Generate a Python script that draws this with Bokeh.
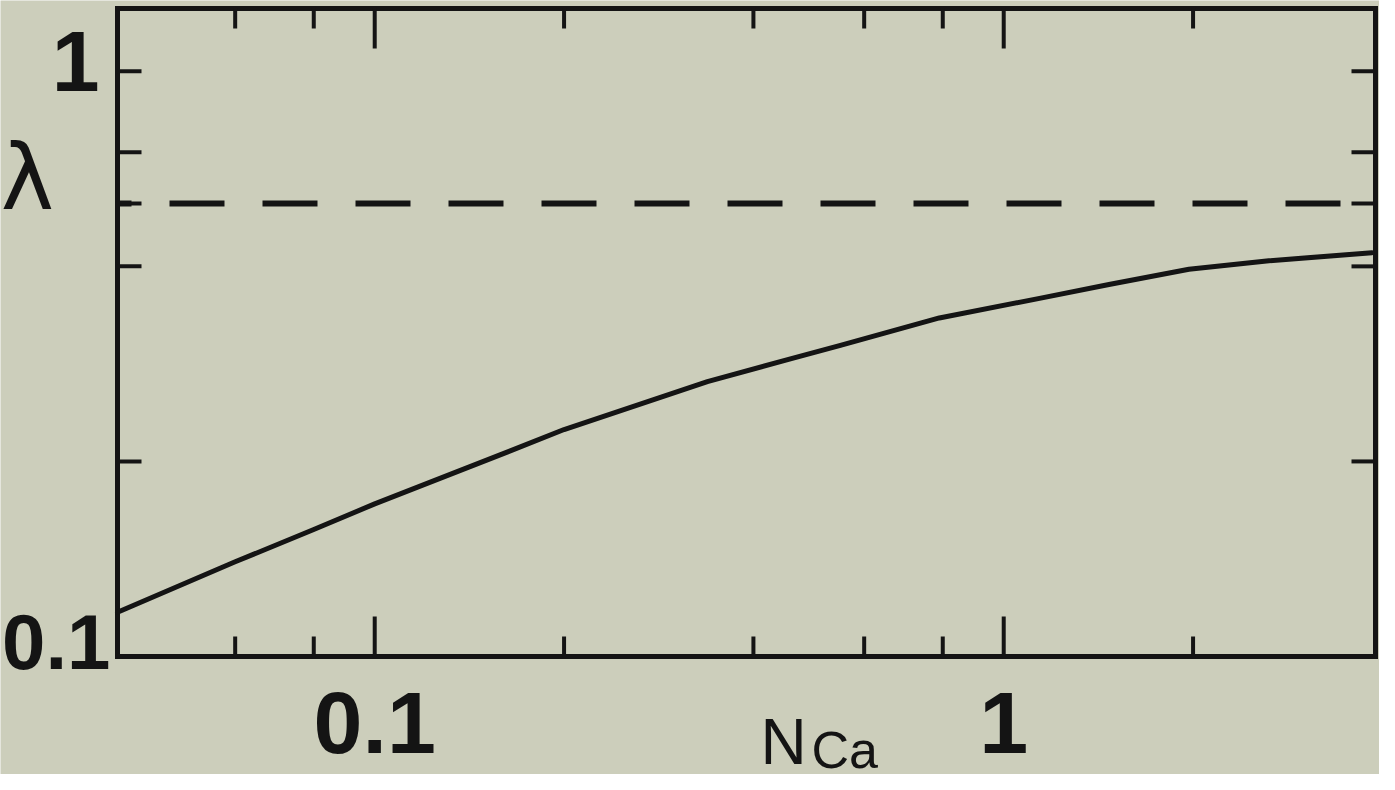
import math
from bokeh.plotting import figure
from bokeh.models import Range1d, Label
from bokeh.embed import file_html
from bokeh.resources import INLINE

# ---- data ----
n_ca = [0.039, 0.06, 0.08, 0.1, 0.165, 0.2, 0.338, 0.458, 0.55, 0.79, 1.14, 1.47, 1.97, 2.64, 3.85]
lam = [0.117, 0.140, 0.157, 0.172, 0.208, 0.224, 0.2655, 0.288, 0.302, 0.333, 0.357, 0.375, 0.396, 0.408, 0.420]
dashed_level = 0.5

x_major = [0.1, 1]
x_minor = [0.06, 0.08, 0.2, 0.4, 0.6, 0.8, 2]
x_tick_labels = ["0.1", "1"]
y_ticks = [0.2, 0.4, 0.5, 0.6, 0.8]
y_top_label = "1"
y_bottom_label = "0.1"
x_title_main, x_title_sub = "N", "Ca"
y_title = "λ"

# plotted box (axis ranges of the original figure)
X0, X1 = 0.039, 3.9
Y0, Y1 = 0.1, 1.0

# ---- layout / style ----
W, H = 1379, 774
L, R, T, B = 117, 4, 8, 118          # box position inside the canvas (px)
BG = "#cccebb"
INK = "#141414"
NUM_FONT = "Liberation Sans"
DESC = 0.21  # offset of the text box bottom below the wanted baseline (fraction of size)


def fx(px):
    return 10 ** (math.log10(X0) + (px - L) / (W - L - R) * math.log10(X1 / X0))


def fy(py):
    return 10 ** (math.log10(Y1) - (py - T) / (H - T - B) * math.log10(Y1 / Y0))


p = figure(width=W, height=H, x_axis_type="log", y_axis_type="log",
           x_range=Range1d(fx(0), fx(W)), y_range=Range1d(fy(H), fy(0)),
           x_axis_location=None, y_axis_location=None, title=None,
           output_backend="svg", toolbar_location=None,
           min_border_left=0, min_border_right=0, min_border_top=0, min_border_bottom=0,
           background_fill_color=BG, border_fill_color=BG, outline_line_color=None)
p.grid.visible = False

# axis box
p.quad(left=[X0], right=[X1], bottom=[Y0], top=[Y1], fill_color=None,
       line_color=INK, line_width=5, line_join="miter")

# inward ticks on all four sides (screen-length rays from the box edges)
tick_kw = dict(length_units="screen", angle_units="deg", line_color=INK, line_width=4)
p.ray(x=x_major, y=[Y0] * len(x_major), length=40, angle=90, **tick_kw)
p.ray(x=x_minor, y=[Y0] * len(x_minor), length=20, angle=90, **tick_kw)
p.ray(x=x_major, y=[Y1] * len(x_major), length=40, angle=-90, **tick_kw)
p.ray(x=x_minor, y=[Y1] * len(x_minor), length=20, angle=-90, **tick_kw)
p.ray(x=[X0] * len(y_ticks), y=y_ticks, length=24, angle=0, **tick_kw)
p.ray(x=[X1] * len(y_ticks), y=y_ticks, length=24, angle=180, **tick_kw)

# dashed level and curve
p.line([X0, X1], [dashed_level, dashed_level], line_color=INK, line_width=6,
       line_dash="55 38", line_dash_offset=41)
p.line(n_ca, lam, line_color=INK, line_width=5, line_cap="round", line_join="round")


def add_text(x, baseline_py, text, align, size, font, bold=False):
    p.add_layout(Label(x=x, y=fy(baseline_py + DESC * size), text=text,
                       text_align=align, text_baseline="bottom",
                       text_font=font, text_font_style="bold" if bold else "normal",
                       text_font_size=f"{size}px", text_color=INK))


# x tick labels
for v, t in zip(x_major, x_tick_labels):
    add_text(v, 734, t, "center", 88, NUM_FONT, bold=True)

# y-axis end labels
add_text(fx(99), 72, y_top_label, "right", 86, NUM_FONT, bold=True)
add_text(fx(110), 652, y_bottom_label, "right", 78, NUM_FONT, bold=True)

# axis titles
add_text(fx(27), 211, y_title, "center", 90, "DejaVu Sans")
add_text(fx(760), 764, x_title_main, "left", 64, "Liberation Sans")
add_text(fx(811), 768, x_title_sub, "left", 52, "Liberation Sans")

open("out.html", "w").write(file_html(p, INLINE))
